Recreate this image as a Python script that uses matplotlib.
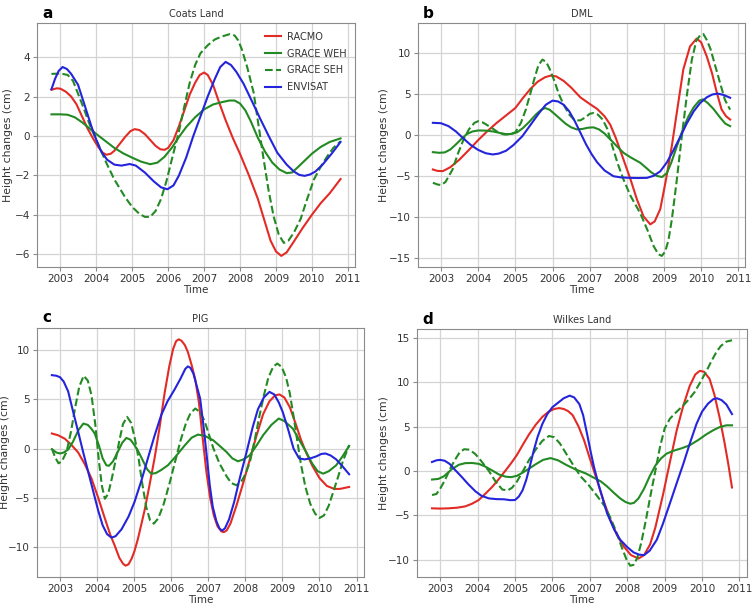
import matplotlib
matplotlib.use("Agg")
import matplotlib.pyplot as plt

# values (year, height change in cm)
# --- a: Coats Land ---
a_racmo_t = [2002.75, 2002.9, 2003.0, 2003.15, 2003.3, 2003.45, 2003.6, 2003.75, 2003.9, 2004.05, 2004.18, 2004.28,
             2004.4, 2004.5, 2004.65, 2004.8, 2004.95, 2005.07, 2005.2, 2005.35, 2005.5, 2005.65, 2005.78, 2005.9,
             2006.0, 2006.15, 2006.3, 2006.45, 2006.6, 2006.75, 2006.88, 2007.0, 2007.1, 2007.25, 2007.4, 2007.6,
             2007.8, 2008.0, 2008.25, 2008.5, 2008.7, 2008.85, 2009.0, 2009.15, 2009.3, 2009.5, 2009.75, 2010.0,
             2010.25, 2010.5, 2010.8]
a_racmo_v = [2.35, 2.42, 2.4, 2.25, 2.0, 1.6, 1.0, 0.4, -0.1, -0.55, -0.85, -0.95, -0.9, -0.75, -0.4, -0.05, 0.25,
             0.35, 0.3, 0.1, -0.2, -0.5, -0.67, -0.7, -0.6, -0.2, 0.5, 1.3, 2.1, 2.7, 3.1, 3.22, 3.1, 2.6, 1.8, 0.8,
             -0.1, -0.9, -2.0, -3.2, -4.4, -5.3, -5.85, -6.08, -5.9, -5.35, -4.65, -4.0, -3.4, -2.9, -2.18]
a_weh_t = [2002.75, 2003.0, 2003.2, 2003.4, 2003.6, 2003.8, 2004.0, 2004.25, 2004.5, 2004.75, 2005.0, 2005.25,
           2005.5, 2005.7, 2005.9, 2006.1, 2006.3, 2006.5, 2006.75, 2007.0, 2007.25, 2007.5, 2007.7, 2007.85, 2008.0,
           2008.15, 2008.3, 2008.5, 2008.7, 2008.9, 2009.1, 2009.3, 2009.45, 2009.6, 2009.8, 2010.0, 2010.25, 2010.5,
           2010.8]
a_weh_v = [1.1, 1.1, 1.08, 0.95, 0.7, 0.4, 0.1, -0.25, -0.6, -0.88, -1.1, -1.3, -1.43, -1.35, -1.05, -0.6, -0.05,
           0.45, 0.95, 1.35, 1.6, 1.72, 1.8, 1.8, 1.65, 1.3, 0.75, -0.1, -0.8, -1.35, -1.7, -1.88, -1.85, -1.6, -1.25,
           -0.9, -0.55, -0.3, -0.12]
a_seh_t = [2002.75, 2003.0, 2003.2, 2003.35, 2003.5, 2003.65, 2003.81, 2004.0, 2004.28, 2004.5, 2004.8, 2005.0,
           2005.2, 2005.35, 2005.5, 2005.65, 2005.8, 2005.95, 2006.1, 2006.29, 2006.45, 2006.6, 2006.75, 2006.9,
           2007.1, 2007.3, 2007.5, 2007.72, 2007.85, 2007.95, 2008.05, 2008.2, 2008.38, 2008.52, 2008.66, 2008.8,
           2008.94, 2009.08, 2009.22, 2009.35, 2009.5, 2009.69, 2009.85, 2010.06, 2010.25, 2010.43, 2010.6, 2010.8]
a_seh_v = [3.15, 3.17, 3.1, 2.8, 2.1, 1.4, 0.6, -0.2, -1.37, -2.2, -3.1, -3.6, -3.95, -4.1, -4.1, -3.8, -3.2, -2.3,
           -1.2, 0.16, 1.5, 2.7, 3.6, 4.2, 4.6, 4.9, 5.05, 5.17, 5.1, 4.85, 4.4, 3.5, 2.2, 0.5, -1.2, -2.8, -4.1, -5.0,
           -5.42, -5.3, -4.9, -4.2, -3.3, -2.2, -1.55, -1.03, -0.6, -0.27]
a_env_t = [2002.75, 2002.85, 2002.95, 2003.06, 2003.18, 2003.3, 2003.49, 2003.65, 2003.86, 2004.0, 2004.14, 2004.3,
           2004.5, 2004.7, 2004.93, 2005.1, 2005.35, 2005.6, 2005.8, 2005.98, 2006.15, 2006.3, 2006.5, 2006.7,
           2006.9, 2007.1, 2007.3, 2007.45, 2007.6, 2007.75, 2007.9, 2008.1, 2008.35, 2008.57, 2008.8, 2009.04,
           2009.3, 2009.5, 2009.65, 2009.8, 2009.95, 2010.1, 2010.3, 2010.55, 2010.8]
a_env_v = [2.37, 2.9, 3.3, 3.5, 3.4, 3.15, 2.6, 1.7, 0.5, -0.2, -0.8, -1.2, -1.45, -1.5, -1.42, -1.5, -1.85, -2.3,
           -2.6, -2.7, -2.5, -2.0, -1.1, 0.0, 1.0, 2.0, 2.9, 3.5, 3.76, 3.6, 3.25, 2.65, 1.7, 0.85, 0.0, -0.85, -1.45,
           -1.8, -1.97, -2.02, -1.95, -1.8, -1.45, -0.9, -0.3]

# --- b: DML ---
b_racmo_t = [2002.78, 2002.9, 2003.05, 2003.25, 2003.49, 2003.75, 2004.0, 2004.25, 2004.5, 2004.75, 2005.0, 2005.2,
             2005.4, 2005.6, 2005.8, 2005.95, 2006.1, 2006.3, 2006.5, 2006.75, 2007.0, 2007.2, 2007.4, 2007.55,
             2007.7, 2007.91, 2008.1, 2008.27, 2008.45, 2008.63, 2008.75, 2008.9, 2009.05, 2009.21, 2009.37, 2009.52,
             2009.7, 2009.88, 2010.0, 2010.15, 2010.29, 2010.42, 2010.55, 2010.67, 2010.78]
b_racmo_v = [-4.18, -4.35, -4.38, -3.9, -3.0, -1.8, -0.6, 0.5, 1.5, 2.4, 3.3, 4.5, 5.6, 6.5, 7.05, 7.25, 7.15, 6.6,
             5.8, 4.6, 3.8, 3.2, 2.3, 1.3, -0.3, -2.96, -5.4, -7.8, -9.9, -10.86, -10.5, -9.0, -5.5, -1.34, 3.5, 8.0,
             10.8, 11.76, 11.3, 9.6, 7.58, 5.2, 3.12, 2.3, 1.9]
b_weh_t = [2002.78, 2002.95, 2003.1, 2003.25, 2003.4, 2003.55, 2003.7, 2003.85, 2004.0, 2004.2, 2004.4, 2004.6,
           2004.75, 2004.9, 2005.05, 2005.2, 2005.37, 2005.55, 2005.7, 2005.8, 2005.92, 2006.05, 2006.2, 2006.35,
           2006.5, 2006.65, 2006.8, 2006.95, 2007.1, 2007.25, 2007.4, 2007.55, 2007.7, 2007.91, 2008.1, 2008.36,
           2008.5, 2008.65, 2008.8, 2008.95, 2009.08, 2009.2, 2009.35, 2009.5, 2009.65, 2009.8, 2009.95, 2010.05,
           2010.18, 2010.33, 2010.5, 2010.65, 2010.78]
b_weh_v = [-2.07, -2.15, -2.1, -1.75, -1.13, -0.45, 0.15, 0.45, 0.57, 0.55, 0.45, 0.25, 0.12, 0.15, 0.35, 0.85, 1.6,
           2.5, 3.1, 3.3, 3.1, 2.6, 2.0, 1.4, 0.95, 0.7, 0.75, 0.9, 0.95, 0.7, 0.2, -0.5, -1.2, -2.15, -2.7, -3.36,
           -3.9, -4.5, -4.95, -5.1, -4.6, -3.3, -1.3, 0.6, 2.2, 3.4, 4.2, 4.35, 3.9, 3.2, 2.2, 1.4, 1.1]
b_seh_t = [2002.78, 2002.9, 2003.0, 2003.12, 2003.31, 2003.45, 2003.6, 2003.75, 2003.9, 2004.0, 2004.12, 2004.25,
           2004.39, 2004.55, 2004.7, 2004.85, 2005.0, 2005.15, 2005.28, 2005.4, 2005.52, 2005.62, 2005.73, 2005.83,
           2005.93, 2006.05, 2006.17, 2006.3, 2006.45, 2006.6, 2006.75, 2006.9, 2007.0, 2007.11, 2007.22, 2007.35,
           2007.47, 2007.6, 2007.75, 2007.91, 2008.1, 2008.36, 2008.55, 2008.72, 2008.85, 2008.94, 2009.03, 2009.12,
           2009.21, 2009.33, 2009.48, 2009.62, 2009.75, 2009.87, 2009.98, 2010.06, 2010.15, 2010.25, 2010.35, 2010.5,
           2010.64, 2010.78]
b_seh_v = [-5.8, -6.0, -6.08, -5.7, -4.18, -2.3, -0.6, 0.7, 1.5, 1.7, 1.55, 1.2, 0.8, 0.3, 0.08, 0.1, 0.35, 1.5,
           3.1, 5.0, 7.0, 8.5, 9.2, 8.9, 8.0, 6.6, 5.0, 3.7, 2.5, 1.8, 1.8, 2.2, 2.6, 2.7, 2.5, 1.9, 0.8, -1.2, -3.4,
           -5.4, -7.4, -9.5, -11.5, -13.5, -14.5, -14.7, -14.2, -12.8, -10.3, -6.0, -0.1, 5.0, 9.2, 11.5, 12.2, 12.3,
           11.6, 10.5, 8.9, 6.5, 4.3, 3.1]
b_env_t = [2002.78, 2003.0, 2003.2, 2003.4, 2003.6, 2003.8, 2004.0, 2004.2, 2004.39, 2004.55, 2004.75, 2004.95,
           2005.19, 2005.4, 2005.64, 2005.82, 2006.0, 2006.15, 2006.3, 2006.45, 2006.6, 2006.75, 2006.9, 2007.05,
           2007.2, 2007.4, 2007.64, 2007.85, 2008.09, 2008.3, 2008.54, 2008.72, 2008.9, 2009.08, 2009.26, 2009.45,
           2009.61, 2009.8, 2009.97, 2010.15, 2010.3, 2010.45, 2010.6, 2010.78]
b_env_v = [1.5, 1.45, 1.1, 0.45, -0.4, -1.2, -1.8, -2.2, -2.35, -2.25, -1.9, -1.2, -0.12, 1.2, 2.7, 3.7, 4.2, 4.1,
           3.7, 2.9, 1.7, 0.3, -1.1, -2.3, -3.3, -4.3, -5.0, -5.15, -5.2, -5.22, -5.2, -4.95, -4.4, -3.3, -1.8, -0.1,
           1.4, 2.9, 3.9, 4.6, 4.95, 5.05, 4.9, 4.55]

# --- c: PIG ---
c_racmo_t = [2002.78, 2002.95, 2003.13, 2003.3, 2003.49, 2003.67, 2003.85, 2004.03, 2004.21, 2004.35, 2004.48,
             2004.6, 2004.7, 2004.77, 2004.85, 2004.93, 2005.01, 2005.1, 2005.2, 2005.28, 2005.4, 2005.55, 2005.68,
             2005.82, 2005.95, 2006.05, 2006.13, 2006.2, 2006.28, 2006.37, 2006.45, 2006.55, 2006.65, 2006.75,
             2006.85, 2006.95, 2007.05, 2007.15, 2007.25, 2007.35, 2007.42, 2007.5, 2007.6, 2007.76, 2007.95,
             2008.12, 2008.3, 2008.48, 2008.65, 2008.8, 2008.92, 2009.05, 2009.2, 2009.35, 2009.5, 2009.64, 2009.8,
             2010.0, 2010.2, 2010.4, 2010.55, 2010.8]
c_racmo_v = [1.53, 1.35, 1.0, 0.4, -0.4, -1.6, -3.05, -5.0, -7.1, -8.7, -9.9, -11.1, -11.7, -11.9, -11.75, -11.2,
             -10.4, -9.2, -7.6, -6.3, -4.0, -1.0, 2.0, 5.6, 8.4, 10.1, 10.9, 11.1, 10.95, 10.5, 9.8, 8.5, 7.0, 4.6,
             1.0, -2.4, -5.0, -6.8, -7.9, -8.4, -8.5, -8.3, -7.6, -5.8, -3.4, -1.1, 1.3, 3.5, 4.8, 5.4, 5.5, 5.2, 4.2,
             2.6, 0.9, -0.4, -1.7, -3.0, -3.8, -4.1, -4.1, -3.9]
c_weh_t = [2002.78, 2002.9, 2003.0, 2003.1, 2003.22, 2003.35, 2003.5, 2003.63, 2003.75, 2003.85, 2003.94, 2004.05,
           2004.15, 2004.25, 2004.32, 2004.43, 2004.55, 2004.68, 2004.79, 2004.9, 2005.0, 2005.1, 2005.22, 2005.35,
           2005.46, 2005.58, 2005.72, 2005.91, 2006.1, 2006.36, 2006.55, 2006.72, 2006.9, 2007.13, 2007.3, 2007.49,
           2007.65, 2007.8, 2007.95, 2008.12, 2008.3, 2008.48, 2008.7, 2008.9, 2009.05, 2009.28, 2009.45, 2009.64,
           2009.8, 2009.95, 2010.1, 2010.25, 2010.45, 2010.62, 2010.8]
c_weh_v = [-0.07, -0.4, -0.5, -0.4, -0.1, 0.7, 1.9, 2.54, 2.4, 2.0, 1.5, 0.3, -1.0, -1.7, -1.75, -1.3, -0.4, 0.6,
           1.08, 0.9, 0.4, -0.2, -1.1, -2.1, -2.55, -2.5, -2.2, -1.7, -0.9, 0.3, 1.1, 1.42, 1.3, 0.85, 0.3, -0.34,
           -1.0, -1.29, -1.1, -0.68, 0.3, 1.36, 2.4, 3.05, 2.8, 2.03, 0.9, -0.34, -1.5, -2.3, -2.55, -2.3, -1.7, -0.8,
           0.27]
c_seh_t = [2002.78, 2002.87, 2002.96, 2003.05, 2003.18, 2003.3, 2003.4, 2003.52, 2003.64, 2003.75, 2003.85, 2003.95,
           2004.05, 2004.13, 2004.21, 2004.3, 2004.4, 2004.5, 2004.6, 2004.7, 2004.81, 2004.92, 2005.02, 2005.12,
           2005.22, 2005.33, 2005.43, 2005.53, 2005.65, 2005.8, 2005.95, 2006.1, 2006.25, 2006.4, 2006.52, 2006.65,
           2006.78, 2006.9, 2007.02, 2007.13, 2007.3, 2007.49, 2007.62, 2007.76, 2007.9, 2008.0, 2008.12, 2008.25,
           2008.38, 2008.5, 2008.62, 2008.75, 2008.86, 2008.98, 2009.1, 2009.2, 2009.3, 2009.4, 2009.5, 2009.62,
           2009.75, 2009.88, 2010.0, 2010.12, 2010.25, 2010.38, 2010.5, 2010.63, 2010.8]
c_seh_v = [0.0, -0.9, -1.5, -1.3, -0.3, 1.8, 4.0, 6.3, 7.4, 6.9, 5.4, 2.5, -1.3, -3.8, -5.1, -4.6, -3.0, -1.2, 0.8,
           2.5, 3.22, 2.6, 1.0, -1.0, -3.6, -6.0, -7.3, -7.63, -7.1, -5.6, -3.6, -1.4, 0.8, 2.6, 3.6, 4.07, 3.7, 2.8,
           1.4, 0.1, -1.5, -2.8, -3.5, -3.73, -3.3, -2.6, -1.4, 0.8, 3.3, 5.4, 7.2, 8.3, 8.64, 8.3, 7.2, 5.6, 3.3, 0.8,
           -1.6, -3.9, -5.6, -6.6, -7.05, -6.8, -5.8, -4.3, -2.9, -1.3, 0.34]
c_env_t = [2002.78, 2002.9, 2003.0, 2003.1, 2003.22, 2003.35, 2003.49, 2003.62, 2003.76, 2003.9, 2004.03, 2004.15,
           2004.27, 2004.39, 2004.5, 2004.66, 2004.85, 2005.01, 2005.2, 2005.37, 2005.55, 2005.73, 2005.9, 2006.09,
           2006.25, 2006.38, 2006.45, 2006.52, 2006.6, 2006.7, 2006.78, 2006.88, 2006.96, 2007.04, 2007.12, 2007.22,
           2007.3, 2007.37, 2007.45, 2007.56, 2007.7, 2007.85, 2008.03, 2008.2, 2008.34, 2008.5, 2008.65, 2008.78,
           2008.9, 2009.01, 2009.15, 2009.3, 2009.45, 2009.6, 2009.75, 2009.91, 2010.05, 2010.16, 2010.3, 2010.45,
           2010.62, 2010.8]
c_env_v = [7.46, 7.4, 7.25, 6.8, 5.8, 3.8, 1.7, -0.3, -2.37, -4.4, -6.3, -7.8, -8.7, -9.05, -8.9, -8.2, -6.9, -5.42,
           -3.2, -1.0, 1.3, 3.4, 4.8, 6.0, 7.1, 8.1, 8.35, 8.2, 7.6, 6.2, 5.08, 2.0, -0.8, -3.73, -5.9, -7.4, -8.1,
           -8.35, -8.1, -7.2, -5.4, -3.0, -0.4, 2.2, 4.0, 5.2, 5.76, 5.5, 4.7, 3.7, 2.0, 0.0, -1.0, -1.1, -1.0, -0.8,
           -0.55, -0.5, -0.7, -1.1, -1.8, -2.61]

# --- d: Wilkes Land ---
d_racmo_t = [2002.78, 2003.0, 2003.22, 2003.45, 2003.67, 2003.85, 2004.03, 2004.2, 2004.39, 2004.57, 2004.75, 2004.9,
             2005.05, 2005.2, 2005.37, 2005.55, 2005.73, 2005.9, 2006.05, 2006.18, 2006.3, 2006.42, 2006.54, 2006.7,
             2006.85, 2007.0, 2007.19, 2007.37, 2007.55, 2007.72, 2007.9, 2008.1, 2008.3, 2008.45, 2008.61, 2008.75,
             2008.96, 2009.15, 2009.32, 2009.5, 2009.67, 2009.82, 2009.94, 2010.05, 2010.2, 2010.33, 2010.47, 2010.6,
             2010.7, 2010.8]
d_racmo_v = [-4.22, -4.25, -4.22, -4.15, -4.0, -3.7, -3.28, -2.6, -1.8, -0.9, 0.07, 0.9, 1.8, 2.9, 4.1, 5.2, 6.1,
             6.7, 7.0, 7.09, 7.0, 6.75, 6.3, 5.0, 3.4, 1.4, -1.04, -3.4, -5.52, -7.2, -8.5, -9.5, -9.89, -9.5, -8.3,
             -6.4, -2.6, 1.2, 4.55, 7.4, 9.6, 10.9, 11.3, 11.2, 10.4, 8.6, 6.0, 3.2, 0.8, -1.87]
d_weh_t = [2002.78, 2002.95, 2003.1, 2003.31, 2003.5, 2003.67, 2003.85, 2004.03, 2004.2, 2004.39, 2004.57, 2004.75,
           2004.9, 2005.05, 2005.2, 2005.37, 2005.55, 2005.75, 2005.95, 2006.15, 2006.36, 2006.6, 2006.9, 2007.1,
           2007.3, 2007.46, 2007.65, 2007.81, 2007.95, 2008.08, 2008.18, 2008.3, 2008.45, 2008.6, 2008.75, 2008.9,
           2009.05, 2009.25, 2009.45, 2009.67, 2009.9, 2010.12, 2010.3, 2010.47, 2010.65, 2010.8]
d_weh_v = [-0.97, -0.9, -0.6, 0.2, 0.7, 0.88, 0.9, 0.8, 0.5, 0.05, -0.4, -0.65, -0.7, -0.55, -0.2, 0.25, 0.75, 1.25,
           1.45, 1.2, 0.7, 0.2, -0.3, -0.75, -1.2, -1.75, -2.5, -3.1, -3.5, -3.7, -3.6, -3.1, -2.0, -0.6, 0.6, 1.4,
           1.95, 2.3, 2.55, 2.9, 3.5, 4.15, 4.6, 4.95, 5.15, 5.15]
d_seh_t = [2002.78, 2002.9, 2003.0, 2003.13, 2003.27, 2003.4, 2003.52, 2003.64, 2003.78, 2003.94, 2004.1, 2004.3,
           2004.48, 2004.66, 2004.8, 2004.92, 2005.05, 2005.2, 2005.37, 2005.55, 2005.73, 2005.91, 2006.05, 2006.2,
           2006.36, 2006.55, 2006.75, 2006.95, 2007.19, 2007.4, 2007.55, 2007.7, 2007.85, 2007.98, 2008.08, 2008.17,
           2008.27, 2008.38, 2008.5, 2008.61, 2008.75, 2008.88, 2009.0, 2009.14, 2009.3, 2009.5, 2009.65, 2009.8,
           2009.95, 2010.12, 2010.25, 2010.38, 2010.5, 2010.65, 2010.8]
d_seh_v = [-2.72, -2.6, -2.0, -1.0, 0.3, 1.3, 2.1, 2.45, 2.4, 1.9, 1.1, 0.0, -1.2, -2.1, -2.2, -1.9, -1.2, -0.1,
           1.2, 2.4, 3.4, 3.95, 3.8, 3.1, 2.0, 0.7, -0.6, -1.5, -2.8, -4.0, -5.3, -6.8, -8.6, -10.0, -10.7, -10.6,
           -9.8, -8.0, -5.5, -3.0, 0.0, 2.8, 4.8, 5.9, 6.6, 7.4, 8.1, 8.9, 10.0, 11.3, 12.4, 13.4, 14.1, 14.6, 14.75]
d_env_t = [2002.78, 2002.9, 2003.0, 2003.12, 2003.25, 2003.4, 2003.58, 2003.75, 2003.94, 2004.1, 2004.3, 2004.5,
           2004.7, 2004.88, 2005.0, 2005.1, 2005.2, 2005.3, 2005.4, 2005.5, 2005.6, 2005.73, 2005.86, 2006.0,
           2006.15, 2006.3, 2006.46, 2006.58, 2006.72, 2006.82, 2006.92, 2007.02, 2007.11, 2007.25, 2007.46,
           2007.65, 2007.81, 2008.0, 2008.17, 2008.32, 2008.45, 2008.6, 2008.79, 2008.95, 2009.14, 2009.32, 2009.5,
           2009.68, 2009.85, 2010.0, 2010.16, 2010.3, 2010.4, 2010.52, 2010.65, 2010.8]
d_env_v = [1.01, 1.2, 1.25, 1.15, 0.8, 0.1, -0.7, -1.5, -2.3, -2.8, -3.1, -3.18, -3.2, -3.3, -3.28, -2.9, -2.2,
           -1.0, 0.6, 2.3, 3.8, 5.3, 6.4, 7.2, 7.7, 8.2, 8.5, 8.3, 7.54, 6.3, 4.3, 2.2, 0.45, -1.8, -4.78, -6.6,
           -7.76, -8.6, -9.2, -9.45, -9.5, -9.0, -7.76, -6.0, -3.66, -1.4, 0.82, 3.2, 5.3, 6.7, 7.6, 8.1, 8.2, 8.0,
           7.5, 6.42]

labels = ["RACMO", "GRACE WEH", "GRACE SEH", "ENVISAT"]
titles = ["Coats Land", "DML", "PIG", "Wilkes Land"]
letters = ["a", "b", "c", "d"]
yticks = [[-6, -4, -2, 0, 2, 4], [-15, -10, -5, 0, 5, 10], [-10, -5, 0, 5, 10], [-10, -5, 0, 5, 10, 15]]
years = list(range(2003, 2012))

panels = [
    [(a_racmo_t, a_racmo_v), (a_weh_t, a_weh_v), (a_seh_t, a_seh_v), (a_env_t, a_env_v)],
    [(b_racmo_t, b_racmo_v), (b_weh_t, b_weh_v), (b_seh_t, b_seh_v), (b_env_t, b_env_v)],
    [(c_racmo_t, c_racmo_v), (c_weh_t, c_weh_v), (c_seh_t, c_seh_v), (c_env_t, c_env_v)],
    [(d_racmo_t, d_racmo_v), (d_weh_t, d_weh_v), (d_seh_t, d_seh_v), (d_env_t, d_env_v)],
]

W, H = 752, 612
# axes boxes in pixels: left, right, top, bottom
boxes = [(37, 355, 23, 267), (418, 745, 23, 267), (37, 364, 328, 577), (417, 747, 329, 577)]
ylabel_x = [-0.074, -0.089, -0.083, -0.085]
colors = ["#e32b26", "#238a23", "#238a23", "#2424dc"]
styles = ["-", "-", "--", "-"]

fig = plt.figure(figsize=(W / 100, H / 100), dpi=100)

for i, series in enumerate(panels):
    l, r, t, b = boxes[i]
    ax = fig.add_axes([l / W, 1 - b / H, (r - l) / W, (b - t) / H])
    for (tt, vv), c, ls, lab in zip(series, colors, styles, labels):
        ax.plot(tt, vv, color=c, ls=ls, lw=1.5, label=lab)
    ax.set_xticks(years)
    ax.set_yticks(yticks[i])
    ax.grid(True, color="#d4d4d4", lw=0.9)
    ax.set_axisbelow(True)
    for sp in ax.spines.values():
        sp.set_color("#8a8a8a")
    ax.tick_params(labelsize=7.5, colors="#8a8a8a", labelcolor="#333333", length=3, pad=2)
    ax.set_xlabel("Time", fontsize=7.5, color="#333333", labelpad=1)
    ax.set_ylabel("Height changes (cm)", fontsize=7.8, color="#333333")
    ax.yaxis.set_label_coords(ylabel_x[i], 0.5)
    ax.set_title(titles[i], fontsize=7, color="#333333", pad=4)
    fig.text((l + 5) / W, 1 - (t - 10) / H, letters[i], fontsize=11, fontweight="bold", va="center")
    if i == 0:
        ax.legend(loc="upper right", fontsize=7, frameon=False, handlelength=1.65, handletextpad=0.6,
                  labelspacing=0.7, borderaxespad=0.5, labelcolor="#333333")

fig.savefig("out.png", dpi=100)
